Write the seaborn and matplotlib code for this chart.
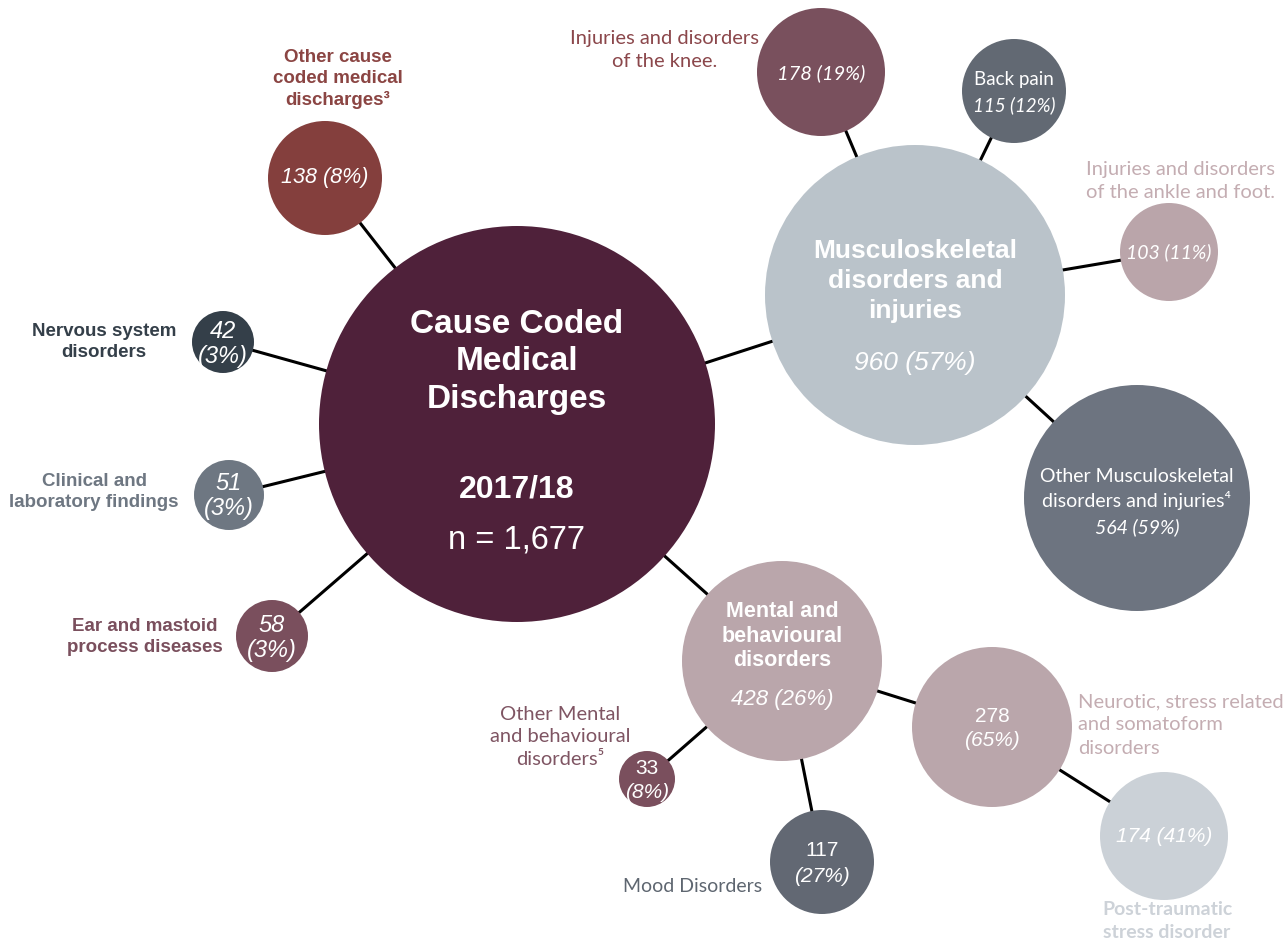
import matplotlib
matplotlib.use("Agg")
import matplotlib.pyplot as plt
from matplotlib.patches import Circle
import pandas as pd
import seaborn as sns

# ---- data ----
labels = [
    "Cause Coded\nMedical\nDischarges",
    "Other cause\ncoded medical\ndischarges\u00b3",
    "Nervous system\ndisorders",
    "Clinical and\nlaboratory findings",
    "Ear and mastoid\nprocess diseases",
    "Musculoskeletal\ndisorders and\ninjuries",
    "Injuries and disorders\nof the knee.",
    "Back pain",
    "Injuries and disorders\nof the ankle and foot.",
    "Other Musculoskeletal\ndisorders and injuries\u2074",
    "Mental and\nbehavioural\ndisorders",
    "Other Mental\nand behavioural\ndisorders\u2075",
    "Mood Disorders",
    "Neurotic, stress related\nand somatoform\ndisorders",
    "Post-traumatic\nstress disorder",
]
counts = [1677, 138, 42, 51, 58, 960, 178, 115, 103, 564, 428, 33, 117, 278, 174]
shares = [None, 8, 3, 3, 3, 57, 19, 12, 11, 59, 26, 8, 27, 65, 41]
parent = [None, 0, 0, 0, 0, 0, 5, 5, 5, 5, 0, 10, 10, 10, 13]
period = "2017/18"

# ---- layout (pixel coords, y pointing down) ----
centres = [(517, 425), (325, 179), (223, 343), (229, 496), (272, 637),
           (915, 296), (821, 73), (1014, 92), (1169, 253), (1137, 499),
           (782, 662), (647, 780), (822, 863), (992, 728), (1164, 837)]
radii = [198, 57, 31, 35, 36, 150, 64, 52, 49, 113, 100, 28, 52, 80, 64]
fills = ["#4F213A", "#843F3D", "#343F49", "#6E7782", "#7A4F5D",
         "#BAC3CA", "#79505D", "#626973", "#BAA5AA", "#6D7480",
         "#BAA6AB", "#7A4F5D", "#626873", "#BAA6AB", "#CBD1D7"]

ARIAL = ["Liberation Sans", "DejaVu Sans"]
CALIBRI = ["Lato", "DejaVu Sans"]

sns.set_theme(style="white")
plt.rcParams["font.family"] = ARIAL

fig = plt.figure(figsize=(12.85, 9.45), dpi=100)
ax = fig.add_axes([0, 0, 1, 1])

# connecting lines, centre to centre, drawn under the bubbles
rows = []
for i, p in enumerate(parent):
    if p is None:
        continue
    rows.append({"link": i, "x": centres[p][0], "y": centres[p][1]})
    rows.append({"link": i, "x": centres[i][0], "y": centres[i][1]})
links = pd.DataFrame(rows)
sns.lineplot(data=links, x="x", y="y", units="link", estimator=None, sort=False,
             color="black", lw=2.2, ax=ax, zorder=1)

for (x, y), r, c in zip(centres, radii, fills):
    ax.add_patch(Circle((x, y), r, facecolor=c, edgecolor="none", zorder=2))

ax.set_xlim(0, 1285)
ax.set_ylim(945, 0)
ax.axis("off")


def txt(x, y, s, size, family=ARIAL, weight="normal", style="normal",
        color="white", ha="center", ls=1.2):
    ax.text(x, y, s, fontsize=size, family=family, fontweight=weight,
            fontstyle=style, color=color, ha=ha, va="center",
            linespacing=ls, zorder=3)


def both(i):
    return f"{counts[i]} ({shares[i]}%)"


# main bubble
cx, cy = centres[0]
txt(cx, cy - 63, labels[0], 24, weight="bold", ls=1.28)
txt(cx, cy + 65, period, 23, weight="bold")
txt(cx, cy + 115, f"n = {counts[0]:,}", 23.5)

# musculoskeletal
cx, cy = centres[5]
txt(cx, cy - 15, labels[5], 19, weight="bold", ls=1.33)
txt(cx, cy + 67, both(5), 19, style="italic")

# mental and behavioural
cx, cy = centres[10]
txt(cx, cy - 26, labels[10], 15.5, weight="bold", ls=1.2)
txt(cx, cy + 38, both(10), 16, style="italic")

# other cause coded
cx, cy = centres[1]
txt(cx, cy - 1, both(1), 15.5, style="italic")
txt(338, 79, labels[1], 13.5, weight="bold", color="#8B4543", ls=1.3)

# small left-hand bubbles: two italic lines
for i, lab_xy, lab_col in [(2, (104, 342), "#343F49"),
                           (3, (94, 492), "#6E7782"),
                           (4, (145, 637), "#7A4F5D")]:
    cx, cy = centres[i]
    txt(cx, cy - 12, f"{counts[i]}", 17, style="italic")
    txt(cx, cy + 13, f"({shares[i]}%)", 17, style="italic")
    txt(lab_xy[0], lab_xy[1], labels[i], 13.5, weight="bold", color=lab_col, ls=1.3)

# knee
cx, cy = centres[6]
txt(cx, cy, both(6), 14.5, family=CALIBRI, style="italic")
txt(665, 50, labels[6], 14.5, family=CALIBRI, color="#8B474B", ls=1.38)

# back pain
cx, cy = centres[7]
txt(cx, cy - 12, labels[7], 13.5, family=CALIBRI)
txt(cx, cy + 13, both(7), 13.5, family=CALIBRI, style="italic")

# ankle and foot
cx, cy = centres[8]
txt(cx, cy - 1, both(8), 14, family=CALIBRI, style="italic")
txt(1181, 181, labels[8], 14.5, family=CALIBRI, color="#C4ADB2", ls=1.38)

# other musculoskeletal
cx, cy = centres[9]
txt(cx, cy - 10, labels[9], 14, family=CALIBRI, ls=1.43)
txt(cx, cy + 28, both(9), 14, family=CALIBRI, style="italic")

# mental sub-bubbles: regular count over italic share
for i in [11, 12, 13]:
    cx, cy = centres[i]
    txt(cx, cy - 12, f"{counts[i]}", 15)
    txt(cx, cy + 13, f"({shares[i]}%)", 15, style="italic")

txt(560, 737, labels[11], 14.5, family=CALIBRI, color="#7F5563", ls=1.4)
txt(762, 887, labels[12], 14, family=CALIBRI, color="#5E6670", ha="right")
txt(1078, 725, labels[13], 14.5, family=CALIBRI, color="#C4ADB2", ha="left", ls=1.43)

# PTSD
cx, cy = centres[14]
txt(cx, cy, both(14), 15, style="italic")
txt(1167, 921, labels[14], 14, family=CALIBRI, weight="bold", color="#CDD2D8", ls=1.4)

fig.savefig("out.png", dpi=100, facecolor="white")
